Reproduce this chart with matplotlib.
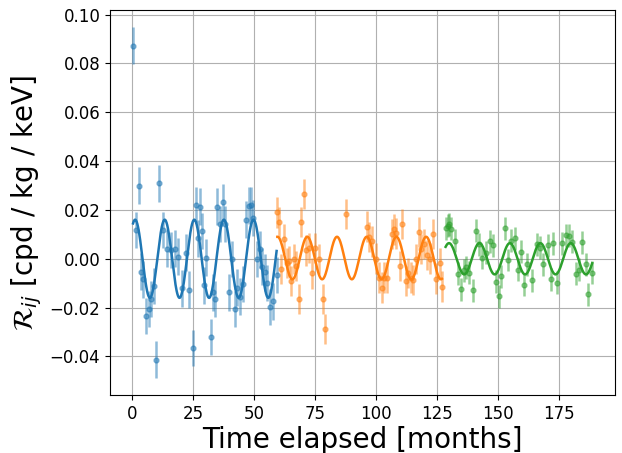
import numpy as np
import matplotlib
matplotlib.use("Agg")
import matplotlib.pyplot as plt

# blue period
t1 = [0.25, 1.3, 2.6, 3.4, 4.3, 5.7, 6.8, 7.7, 8.8, 9.8, 11.1, 12.5, 14.1, 15.8, 17.5,
      18.8, 20.3, 21.9, 23.3, 24.8, 26.0, 27.1, 27.8, 28.4, 29.4, 30.3, 32.1, 33.1, 33.9,
      34.8, 35.9, 37.3, 38.2, 39.6, 40.9, 42.0, 42.9, 44.3, 45.6, 46.7, 47.7, 48.6, 49.7,
      51.1, 52.4, 53.4, 54.5, 55.4, 56.5, 57.6, 59.2]
r1 = [0.0872, 0.0118, 0.0299, -0.0053, -0.0084, -0.0235, -0.0205, -0.0164, -0.0112, -0.0413,
      0.0309, 0.0118, 0.0042, 0.0036, 0.0042, 0.0009, -0.0121, 0.0025, -0.0126, -0.0365,
      0.0220, 0.0083, 0.0214, 0.0113, -0.0109, 0.0004, -0.0320, -0.0137, -0.0164, 0.0214,
      0.0142, 0.0233, 0.0142, -0.0137, -0.0001, -0.0205, -0.0118, -0.0155, -0.0104, 0.0160,
      0.0217, 0.0220, 0.0167, -0.0001, 0.0039, -0.0032, -0.0055, -0.0099, -0.0197, -0.0174,
      -0.0066]
e1 = 0.0075

# orange period
t2 = [59.5, 60.3, 61.2, 62.3, 63.3, 64.2, 65.3, 66.4, 67.3, 68.3, 69.1, 70.3, 71.4, 72.3,
      73.6, 74.8, 76.8, 78.2, 79.1, 87.7, 96.2, 97.2, 98.5, 99.9, 101.2, 102.3, 103.3, 104.6,
      106.4, 107.5, 108.4, 109.9, 110.8, 112.2, 113.1, 114.3, 115.2, 116.6, 117.6, 118.6,
      119.7, 121.0, 122.1, 123.5, 124.8, 126.2, 127.1]
r2 = [0.0190, 0.0151, -0.0043, 0.0080, -0.0016, -0.0009, -0.0091, -0.0002, -0.0029, -0.0164,
      0.0151, 0.0265, 0.0034, 0.0045, -0.0060, 0.0045, -0.0001, -0.0164, -0.0287, 0.0183,
      0.0132, 0.0089, 0.0071, 0.0001, -0.0077, -0.0118, -0.0077, -0.0077, 0.0101, 0.0120,
      0.0104, -0.0030, 0.0141, -0.0091, -0.0057, -0.0077, -0.0087, -0.0001, 0.0109, 0.0041,
      0.0059, 0.0014, 0.0001, 0.0101, -0.0081, -0.0016, -0.0114]
e2 = 0.0062

# green period
t3 = [128.6, 129.4, 130.1, 131.0, 132.6, 133.7, 135.1, 136.1, 137.1, 138.4, 139.8, 141.2,
      142.5, 143.6, 145.0, 147.0, 147.9, 149.3, 150.4, 151.3, 152.9, 154.3, 155.6, 157.1,
      158.3, 159.4, 160.7, 162.1, 164.0, 166.1, 167.4, 168.7, 170.6, 171.9, 172.9, 174.3,
      176.6, 177.9, 179.4, 180.7, 182.0, 183.4, 184.7, 186.1, 187.2, 188.8]
r3 = [0.0124, 0.0135, 0.0142, 0.0122, 0.0073, -0.0061, -0.0125, -0.0047, -0.0035, -0.0058,
      -0.0128, 0.0114, 0.0059, 0.0005, 0.0025, 0.0072, 0.0056, -0.0094, -0.0153, -0.0071,
      0.0124, -0.0005, 0.0073, 0.0084, -0.0044, 0.0028, -0.0107, -0.0022, -0.0088, 0.0059,
      0.0046, -0.0022, 0.0056, -0.0084, 0.0064, -0.0098, 0.0064, 0.0097, 0.0094, 0.0070,
      -0.0061, -0.0044, 0.0067, -0.0022, -0.0146, -0.0058]
e3 = 0.0047

# cosine fits: amplitude, period, time of max, offset
fits = [(0.0160, 12.15, 1.1, 0.0), (0.0087, 12.2, 71.8, 0.0003), (0.0064, 12.5, 142.5, 0.0)]
colors = ['tab:blue', 'tab:orange', 'tab:green']

fig, ax = plt.subplots(figsize=(6.22, 4.53), dpi=100)
for t, r, e, p, c in zip([t1, t2, t3], [r1, r2, r3], [e1, e2, e3], fits, colors):
    t = np.array(t)
    ax.errorbar(t, r, yerr=e, fmt='o', ms=3.5, color=c, alpha=0.5, lw=1.8)
    tt = np.linspace(t.min(), t.max(), 400)
    A, T, t0, off = p
    ax.plot(tt, A * np.cos(2 * np.pi * (tt - t0) / T) + off, color=c, lw=1.8)

ax.grid(True)
ax.set_xlabel('Time elapsed [months]', fontsize=20, labelpad=2)
ax.set_ylabel(r'$\mathcal{R}_{ij}$ [cpd / kg / keV]', fontsize=20)
ax.tick_params(labelsize=12)
plt.subplots_adjust(left=0.177, right=0.989, top=0.978, bottom=0.127)
plt.savefig('out.png')
